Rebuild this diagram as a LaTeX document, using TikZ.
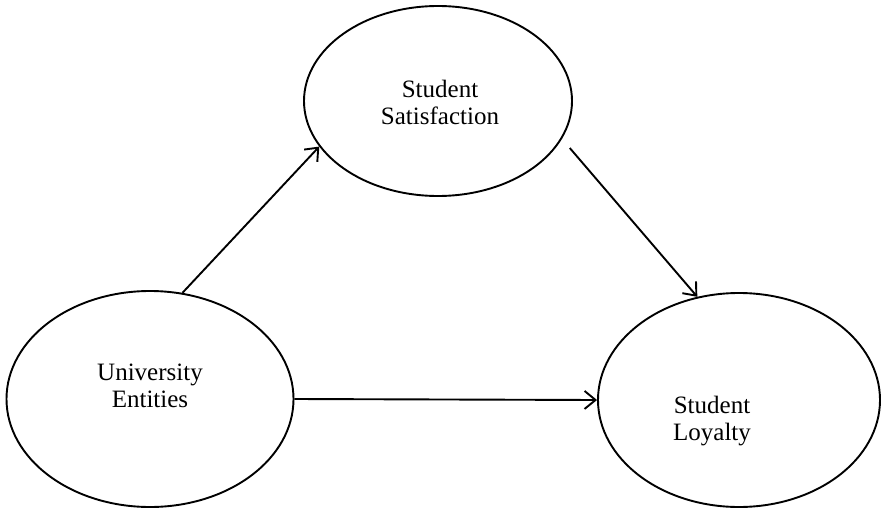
\documentclass[tikz,border=0pt]{standalone}
\usepackage{fontspec}
\setmainfont{Liberation Serif}
\usetikzlibrary{shapes.geometric,arrows.meta}
\begin{document}
\begin{tikzpicture}[x=1pt,y=-1pt,
  oval/.style={draw,ellipse,line width=1.9pt,inner sep=0pt},
  lbl/.style={align=center,font=\fontsize{25}{27}\selectfont,inner sep=0pt},
  conn/.style={line width=1.9pt,-{Straight Barb[length=11pt,width=18pt,line width=1.9pt]}}]
\useasboundingbox (0,0) rectangle (883,511);
\node[oval,minimum width=268pt,minimum height=190pt] (ss) at (438,101) {};
\node[oval,minimum width=287pt,minimum height=216pt] (ue) at (150,399) {};
\node[oval,minimum width=282pt,minimum height=214pt] (sl) at (739,400) {};
\node[lbl] (sst) at (440,102) {Student\\Satisfaction};
\node[lbl] (uet) at (150,386) {University\\Entities};
\node[lbl] (slt) at (712,421) {Student\\Loyalty};
\draw[conn] (ue.73) -- (ss.201.7);
\draw[conn,shorten <=12pt] (ss.-17) -- (sl.112);
\draw[conn] (ue.east) -- (sl.west);
\end{tikzpicture}
\end{document}
